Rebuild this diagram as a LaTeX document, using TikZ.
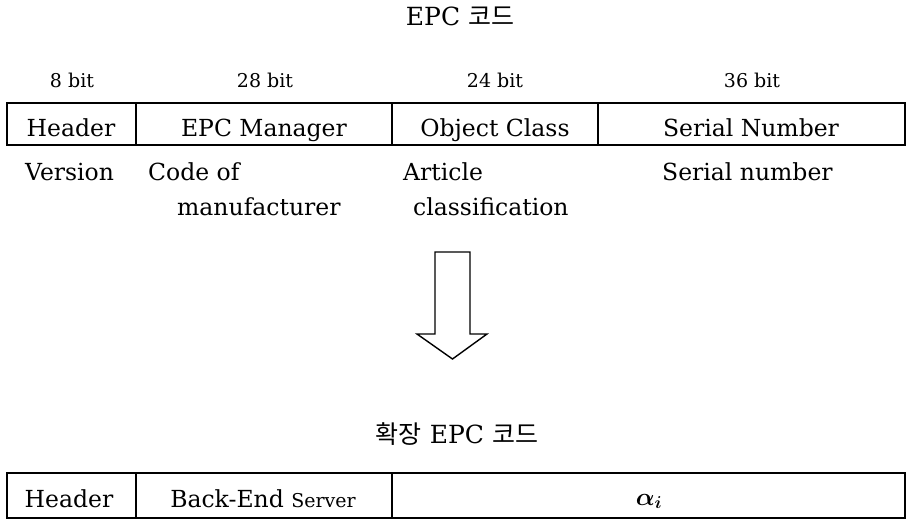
\documentclass[tikz,border=0pt]{standalone}
\usepackage{fontspec}
\usepackage{bm}
\setmainfont{DejaVu Serif}
\newfontfamily\kr{Noto Sans CJK KR}
\newcommand{\krw}[1]{{\kr\fontsize{25}{29}\selectfont #1}}
\begin{document}
\begin{tikzpicture}[x=1pt,y=-1pt,
  lbl/.style={inner sep=0pt, font=\fontsize{23.5}{28}\selectfont},
  bitlbl/.style={inner sep=0pt, font=\fontsize{19}{23}\selectfont},
  ttl/.style={inner sep=0pt, font=\fontsize{25}{30}\selectfont},
  frame/.style={line width=2.2pt},
  divider/.style={line width=1.3pt},
  bigarrow/.style={line width=1.4pt, line join=miter}]
\useasboundingbox (0,0) rectangle (914,520);

% title
\node[ttl, anchor=base] (t1) at (460,25) {EPC \krw{코드}};

% bit labels
\node[bitlbl, anchor=base] (b1) at (72,87) {8 bit};
\node[bitlbl, anchor=base] (b2) at (265,87) {28 bit};
\node[bitlbl, anchor=base] (b3) at (495,87) {24 bit};
\node[bitlbl, anchor=base] (b4) at (752,87) {36 bit};

% top frame
\draw[frame] (7,103) rectangle (905,145);
\draw[divider] (136,103) -- (136,145);
\draw[divider] (392,103) -- (392,145);
\draw[divider] (598,103) -- (598,145);

\node[lbl, anchor=base] (h1) at (71,136) {Header};
\node[lbl, anchor=base] (m1) at (264,136) {EPC Manager};
\node[lbl, anchor=base] (o1) at (495,136) {Object Class};
\node[lbl, anchor=base] (s1) at (751,136) {Serial Number};

% descriptions
\node[lbl, anchor=base west] (d1) at (25,180) {Version};
\node[lbl, anchor=base west] (d2) at (148,180) {Code of};
\node[lbl, anchor=base west] (d3) at (177,215) {manufacturer};
\node[lbl, anchor=base west] (d4) at (403,180) {Article};
\node[lbl, anchor=base west] (d5) at (413,215) {classification};
\node[lbl, anchor=base west] (d6) at (662,180) {Serial number};

% arrow
\draw[bigarrow] (435,252) -- (470,252) -- (470,334) -- (487,334) -- (452.5,359)
  -- (417,334) -- (435,334) -- cycle;

% second title
\node[ttl, anchor=base] (t2) at (457,443) {\krw{확장} EPC \krw{코드}};

% bottom frame
\draw[frame] (7,473) rectangle (905,518);
\draw[divider] (136,473) -- (136,518);
\draw[divider] (392,473) -- (392,518);

\node[lbl, anchor=base] (h2) at (69,507) {Header};
\node[lbl, anchor=base] (be) at (263,507) {Back-End {\fontsize{19}{23}\selectfont Server}};
\node[lbl, anchor=base] (al) at (649,505) {$\bm{\alpha_i}$};
\end{tikzpicture}
\end{document}
